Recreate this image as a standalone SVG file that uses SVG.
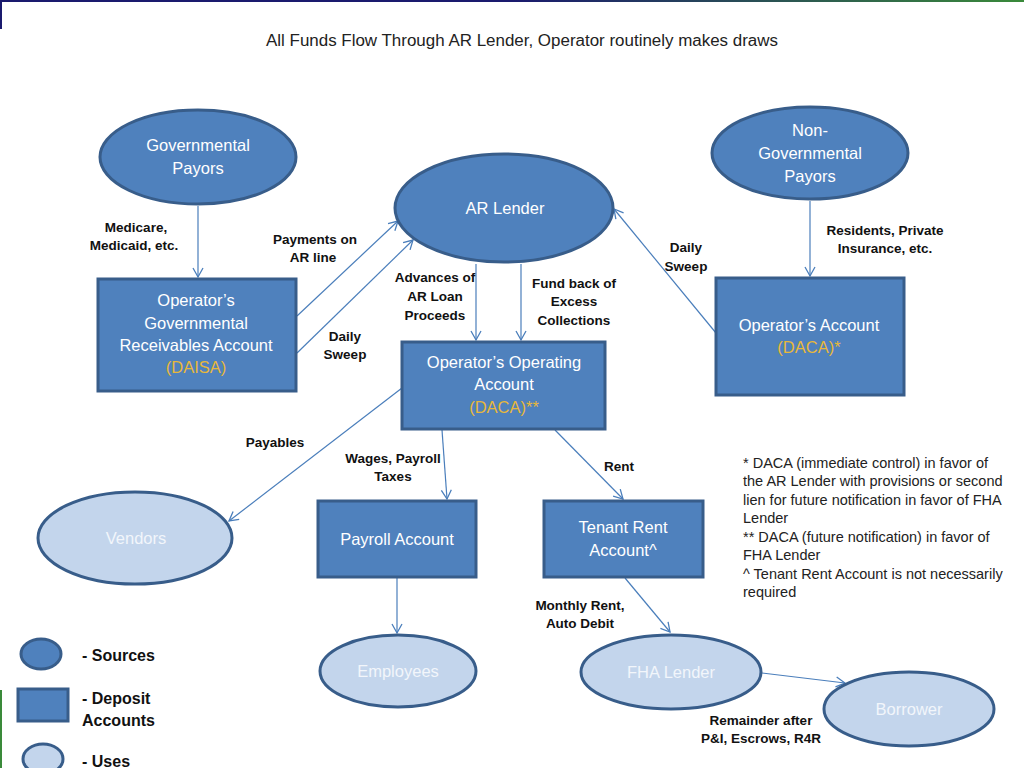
<svg xmlns="http://www.w3.org/2000/svg" width="1024" height="768" viewBox="0 0 1024 768">
<defs>
<linearGradient id="topg" x1="0" y1="0" x2="1" y2="0">
<stop offset="0" stop-color="#1a1a6e"/><stop offset="0.5" stop-color="#1a1a6e"/><stop offset="1" stop-color="#3a8a3a"/>
</linearGradient>
<marker id="arr" markerWidth="12" markerHeight="12" refX="10" refY="6" orient="auto" markerUnits="userSpaceOnUse">
<path d="M1,1 L10,6 L1,11" fill="none" stroke="#4A7EBB" stroke-width="1.3"/>
</marker>
<style>
.src{fill:#4F81BD;stroke:#385D8A;stroke-width:3}
.acc{fill:#4F81BD;stroke:#385D8A;stroke-width:3}
.use{fill:#C3D5EC;stroke:#385D8A;stroke-width:3}
.nt{font-family:"Liberation Sans",Arial,sans-serif;font-size:16.5px;fill:#ffffff;text-anchor:middle}
.ut{font-family:"Liberation Sans",Arial,sans-serif;font-size:16.5px;fill:#F2F6FB;text-anchor:middle}
.gold{fill:#E8B83A}
.el{font-family:"Liberation Sans",Arial,sans-serif;font-size:13.5px;font-weight:bold;fill:#111;text-anchor:middle}
.fn{font-family:"Liberation Sans",Arial,sans-serif;font-size:14.5px;fill:#222}
.lg{font-family:"Liberation Sans",Arial,sans-serif;font-size:16px;font-weight:bold;fill:#111}
.cn{stroke:#4A7EBB;stroke-width:1.2;fill:none}
</style>
</defs>
<rect width="1024" height="768" fill="#ffffff"/>
<rect x="0" y="0" width="1024" height="2" fill="url(#topg)"/>
<rect x="0" y="0" width="2" height="29" fill="#1a1a6e"/>
<rect x="0" y="690" width="2" height="78" fill="#3a8a3a"/>

<text x="522" y="46" font-family="Liberation Sans,Arial,sans-serif" font-size="16" fill="#222" text-anchor="middle" textLength="512" lengthAdjust="spacingAndGlyphs">All Funds Flow Through AR Lender, Operator routinely makes draws</text>

<g id="connectors">
<line class="cn" x1="198" y1="206" x2="198" y2="277" marker-end="url(#arr)"/>
<line class="cn" x1="297" y1="316" x2="398" y2="221" marker-end="url(#arr)"/>
<line class="cn" x1="297" y1="353" x2="413" y2="240" marker-end="url(#arr)"/>
<line class="cn" x1="476" y1="264" x2="476" y2="340" marker-end="url(#arr)"/>
<line class="cn" x1="521" y1="264" x2="521" y2="340" marker-end="url(#arr)"/>
<line class="cn" x1="716" y1="333" x2="614" y2="209" marker-end="url(#arr)"/>
<line class="cn" x1="810" y1="201" x2="810" y2="276" marker-end="url(#arr)"/>
<line class="cn" x1="402" y1="388" x2="229" y2="521" marker-end="url(#arr)"/>
<line class="cn" x1="442" y1="430" x2="447" y2="499" marker-end="url(#arr)"/>
<line class="cn" x1="555" y1="430" x2="623" y2="499" marker-end="url(#arr)"/>
<line class="cn" x1="397" y1="578" x2="397" y2="633" marker-end="url(#arr)"/>
<line class="cn" x1="625" y1="578" x2="670" y2="632" marker-end="url(#arr)"/>
<line class="cn" x1="762" y1="673" x2="845" y2="683" marker-end="url(#arr)"/>
</g>

<g id="labels">
<text class="el" x="136" y="232">Medicare,</text>
<text class="el" x="134" y="250">Medicaid, etc.</text>
<text class="el" x="315" y="244">Payments on</text>
<text class="el" x="313" y="262">AR line</text>
<text class="el" x="345" y="341">Daily</text>
<text class="el" x="345" y="359">Sweep</text>
<text class="el" x="435" y="282">Advances of</text>
<text class="el" x="435" y="301">AR Loan</text>
<text class="el" x="435" y="320">Proceeds</text>
<text class="el" x="574" y="288">Fund back of</text>
<text class="el" x="574" y="306">Excess</text>
<text class="el" x="574" y="325">Collections</text>
<text class="el" x="686" y="252">Daily</text>
<text class="el" x="686" y="271">Sweep</text>
<text class="el" x="885" y="235">Residents, Private</text>
<text class="el" x="885" y="253">Insurance, etc.</text>
<text class="el" x="275" y="447">Payables</text>
<text class="el" x="393" y="463">Wages, Payroll</text>
<text class="el" x="393" y="481">Taxes</text>
<text class="el" x="619" y="471">Rent</text>
<text class="el" x="580" y="610">Monthly Rent,</text>
<text class="el" x="580" y="628">Auto Debit</text>
<text class="el" x="761" y="725">Remainder after</text>
<text class="el" x="761" y="743">P&amp;I, Escrows, R4R</text>
</g>

<g id="gov-payors">
<ellipse class="src" cx="198" cy="157" rx="98" ry="47"/>
<text class="nt" x="198" y="151">Governmental</text>
<text class="nt" x="198" y="174">Payors</text>
</g>
<g id="ar-lender">
<ellipse class="src" cx="504" cy="208" rx="109" ry="54"/>
<text class="nt" x="505" y="214">AR Lender</text>
</g>
<g id="nongov-payors">
<ellipse class="src" cx="810" cy="153" rx="98" ry="46"/>
<text class="nt" x="810" y="136">Non-</text>
<text class="nt" x="810" y="159">Governmental</text>
<text class="nt" x="810" y="182">Payors</text>
</g>
<g id="gov-receivables">
<rect class="acc" x="98" y="279" width="198" height="112"/>
<text class="nt" x="196" y="306">Operator’s</text>
<text class="nt" x="196" y="329">Governmental</text>
<text class="nt" x="196" y="351">Receivables Account</text>
<text class="nt gold" x="196" y="373">(DAISA)</text>
</g>
<g id="operating-account">
<rect class="acc" x="402" y="342" width="203" height="87"/>
<text class="nt" x="504" y="368">Operator’s Operating</text>
<text class="nt" x="504" y="390">Account</text>
<text class="nt gold" x="504" y="413">(DACA)**</text>
</g>
<g id="operator-account">
<rect class="acc" x="716" y="278" width="188" height="117"/>
<text class="nt" x="809" y="331">Operator’s Account</text>
<text class="nt gold" x="809" y="353">(DACA)*</text>
</g>
<g id="payroll-account">
<rect class="acc" x="318" y="501" width="158" height="76"/>
<text class="nt" x="397" y="545">Payroll Account</text>
</g>
<g id="tenant-rent">
<rect class="acc" x="544" y="501" width="159" height="76"/>
<text class="nt" x="623" y="533">Tenant Rent</text>
<text class="nt" x="623" y="556">Account^</text>
</g>
<g id="vendors">
<ellipse class="use" cx="135" cy="538" rx="97" ry="46"/>
<text class="ut" x="136" y="544">Vendors</text>
</g>
<g id="employees">
<ellipse class="use" cx="398" cy="671" rx="78" ry="36"/>
<text class="ut" x="398" y="677">Employees</text>
</g>
<g id="fha-lender">
<ellipse class="use" cx="671" cy="672" rx="90" ry="37"/>
<text class="ut" x="671" y="678">FHA Lender</text>
</g>
<g id="borrower">
<ellipse class="use" cx="909" cy="709" rx="85" ry="37"/>
<text class="ut" x="909" y="715">Borrower</text>
</g>

<g id="footnotes">
<text class="fn" x="743" y="468">* DACA (immediate control)  in favor of</text>
<text class="fn" x="743" y="486">the AR Lender with provisions or second</text>
<text class="fn" x="743" y="505">lien for future notification in favor of FHA</text>
<text class="fn" x="743" y="523">Lender</text>
<text class="fn" x="743" y="542">** DACA (future notification)  in favor of</text>
<text class="fn" x="743" y="560">FHA Lender</text>
<text class="fn" x="743" y="579">^ Tenant Rent Account is not necessarily</text>
<text class="fn" x="743" y="597">required</text>
</g>

<g id="legend">
<ellipse class="src" cx="41" cy="654" rx="20" ry="15"/>
<text class="lg" x="82" y="661">- Sources</text>
<rect class="acc" x="18" y="689" width="50" height="32"/>
<text class="lg" x="82" y="704">- Deposit</text>
<text class="lg" x="82" y="726">Accounts</text>
<ellipse class="use" cx="43" cy="759" rx="20" ry="15"/>
<text class="lg" x="82" y="767">- Uses</text>
</g>
</svg>
